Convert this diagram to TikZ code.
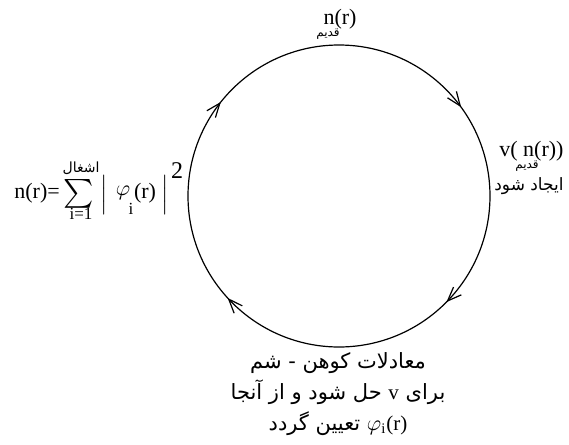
\documentclass[tikz,border=0pt]{standalone}
\usepackage{fontspec}
\usepackage{exscale}
\setmainfont{Liberation Serif}
\newfontfamily\fafont[Script=Arabic]{DejaVu Sans}
\TeXXeTstate=1
\usetikzlibrary{arrows.meta,decorations.markings}
\begin{document}
\begin{tikzpicture}[
  x=0.5pt, y=-0.5pt,
  every node/.style={font=\fontsize{11}{13}\selectfont, inner sep=0pt},
  fa/.style={font=\fontsize{10.5}{15.5}\fafont},
  small/.style={font=\fontsize{6}{7}\fafont},
  lim/.style={font=\fontsize{8.5}{10}\selectfont},
  >={Straight Barb[length=7pt,width=5.5pt]},
  cyc/.style={line width=0.6pt, postaction={decorate},
    decoration={markings,
      mark=at position 0.124 with {\arrow{>}},
      mark=at position 0.382 with {\arrow{>}},
      mark=at position 0.607 with {\arrow{>}},
      mark=at position 0.900 with {\arrow{>}}}}
]
\useasboundingbox (0,0) rectangle (569,445);
\coordinate (c) at (339,196);
\draw[cyc] (c) circle[radius=151];

\node[anchor=base] (old) at (340,24) {n(r)};
\node[small] (oldsub) at (328,34) {\beginR قدیم\endR};

\node[anchor=base west] (pot) at (499,156) {v( n(r))};
\node[small] (potsub) at (527,166) {\beginR قدیم\endR};
\node[font=\fontsize{8.5}{10}\fafont, anchor=base east] (make) at (564,190) {\beginR ایجاد شود\endR};

\node[fa, align=center, anchor=north] (ks) at (338,352) {%
  \beginR معادلات کوهن - شم\endR\\
  \beginR برای \beginL{\rmfamily v}\endL{} حل شود و از آنجا\endR\\
  \beginR \beginL{\rmfamily$\varphi_{\rm i}$(r)}\endL{} تعیین گردد\endR};

\node[anchor=base west] (dens) at (14,198) {n(r)=};
\node[font=\fontsize{14}{16}\selectfont] (sum) at (79,194) {$\sum$};
\node[font=\fontsize{7}{8}\fafont] (occ) at (81,168) {\beginR اشغال\endR};
\node[lim] (low) at (81,214) {i=1};
\node[font=\fontsize{10.5}{12}\selectfont] (lbar) at (104,195) {$\Big|$};
\node (phi) at (123,193) {$\varphi$};
\node[lim] (idx) at (131,209) {i};
\node[anchor=base] (arg) at (145,198) {(r)};
\node[font=\fontsize{10.5}{12}\selectfont] (rbar) at (165,195) {$\Big|$};
\node[font=\fontsize{12}{14}\selectfont] (sq) at (177,171) {2};
\end{tikzpicture}
\end{document}
